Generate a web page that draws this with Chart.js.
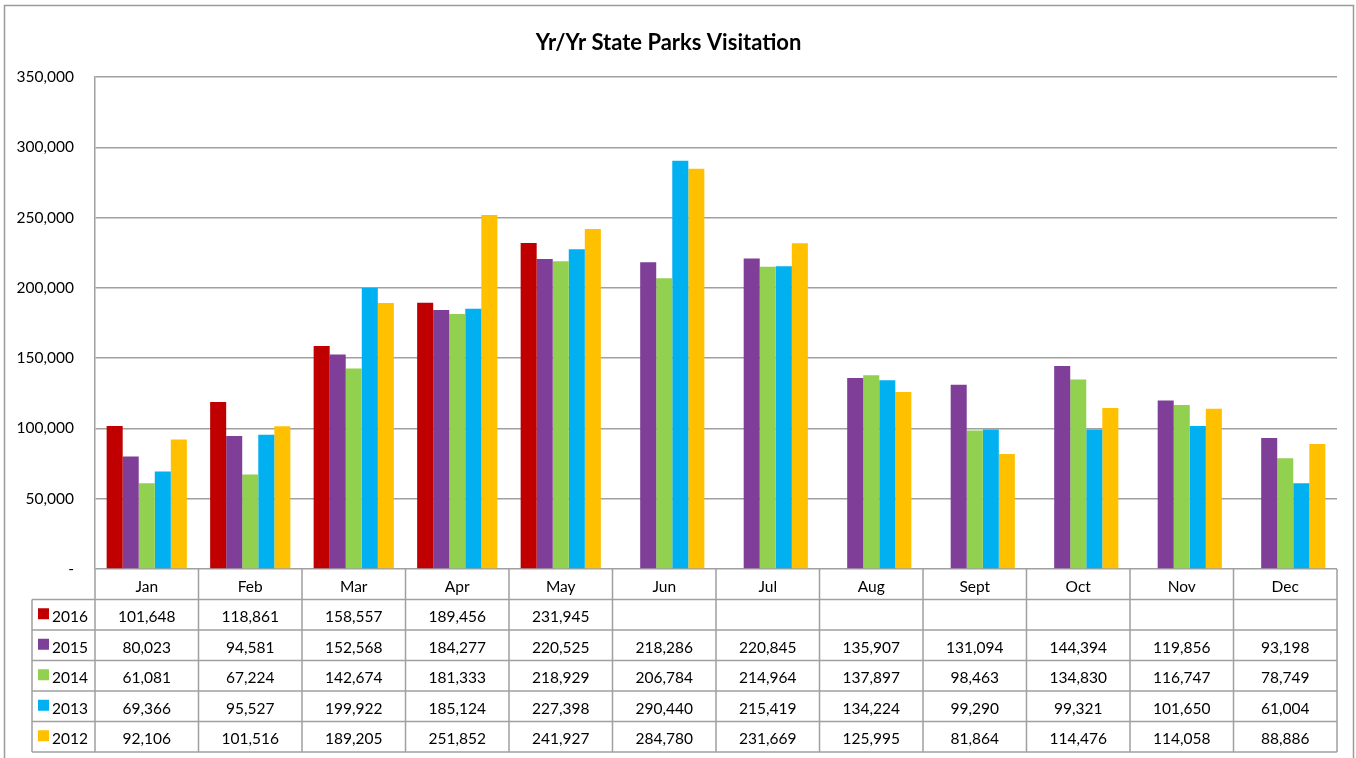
<!DOCTYPE html>
<html>
<head>
<meta charset="utf-8">
<script src="https://cdn.jsdelivr.net/npm/chart.js@4/dist/chart.umd.min.js"></script>
<style>
  html, body { margin: 0; padding: 0; background: #fff; }
</style>
</head>
<body>
<canvas id="chart-visits" width="1356" height="758"></canvas>
<script>
// visitation by month, one array per year
var months = ["Jan", "Feb", "Mar", "Apr", "May", "Jun", "Jul", "Aug", "Sept", "Oct", "Nov", "Dec"];
var years  = ["2016", "2015", "2014", "2013", "2012"];
var v2016 = [101648, 118861, 158557, 189456, 231945, null, null, null, null, null, null, null];
var v2015 = [80023, 94581, 152568, 184277, 220525, 218286, 220845, 135907, 131094, 144394, 119856, 93198];
var v2014 = [61081, 67224, 142674, 181333, 218929, 206784, 214964, 137897, 98463, 134830, 116747, 78749];
var v2013 = [69366, 95527, 199922, 185124, 227398, 290440, 215419, 134224, 99290, 99321, 101650, 61004];
var v2012 = [92106, 101516, 189205, 251852, 241927, 284780, 231669, 125995, 81864, 114476, 114058, 88886];
var colors = ["#C00000", "#7F3F98", "#92D050", "#00B0F0", "#FFC000"];
var yTicks = [0, 50000, 100000, 150000, 200000, 250000, 300000, 350000];

var FONT = "Lato, 'Open Sans', sans-serif";
var LINE = "#a0a0a0";
var series = [v2016, v2015, v2014, v2013, v2012];

function fmt(v) {
  if (v === null || v === undefined) return "";
  return v.toLocaleString("en-US");
}

// outer frame + data table under the plot
var dataTable = {
  id: "dataTable",
  beforeDraw: function(chart) {
    var ctx = chart.ctx;
    ctx.save();
    ctx.fillStyle = "#fff";
    ctx.fillRect(0, 0, chart.width, chart.height);
    ctx.strokeStyle = "#9a9a9a";
    ctx.lineWidth = 1.5;
    ctx.strokeRect(4.5, 5.5, chart.width - 7, chart.height - 2);
    ctx.restore();
  },
  afterDraw: function(chart) {
    var ctx = chart.ctx, a = chart.chartArea, x = chart.scales.x;
    var top = a.bottom, rowH = 30.5, legendLeft = 32;
    var colW = (a.right - a.left) / months.length;
    var bottom = top + rowH * (years.length + 1);
    ctx.save();
    ctx.strokeStyle = LINE;
    ctx.lineWidth = 1.5;
    ctx.beginPath();
    // horizontal rules
    for (var r = 1; r <= years.length + 1; r++) {
      var yy = top + rowH * r;
      ctx.moveTo(legendLeft, yy);
      ctx.lineTo(a.right, yy);
    }
    // vertical rules
    for (var i = 0; i <= months.length; i++) {
      var xx = a.left + colW * i;
      ctx.moveTo(xx, top);
      ctx.lineTo(xx, bottom);
    }
    ctx.moveTo(legendLeft, top + rowH);
    ctx.lineTo(legendLeft, bottom);
    ctx.stroke();

    ctx.fillStyle = "#000";
    ctx.font = "15.5px " + FONT;
    ctx.textBaseline = "middle";
    ctx.textAlign = "center";
    months.forEach(function(m, i) {
      ctx.fillText(m, x.getPixelForValue(i), top + rowH / 2 + 3);
    });
    years.forEach(function(yr, r) {
      var cy = top + rowH * (r + 1) + rowH / 2 + 2.5;
      ctx.fillStyle = colors[r];
      ctx.fillRect(38, cy - 9, 11, 11);
      ctx.fillStyle = "#000";
      ctx.textAlign = "left";
      ctx.fillText(yr, 52, cy);
      ctx.textAlign = "center";
      series[r].forEach(function(v, i) {
        ctx.fillText(fmt(v), x.getPixelForValue(i), cy);
      });
    });
    ctx.restore();
  }
};

var chart = new Chart(document.getElementById("chart-visits").getContext("2d"), {
  type: "bar",
  data: {
    labels: months,
    datasets: years.map(function(yr, i) {
      return {
        label: yr,
        data: series[i],
        backgroundColor: colors[i],
        borderWidth: 0,
        categoryPercentage: 0.775,
        barPercentage: 1.0
      };
    })
  },
  options: {
    responsive: false,
    animation: false,
    layout: { padding: { left: 0, right: 19, top: 0, bottom: 189 } },
    plugins: {
      legend: { display: false },
      tooltip: { enabled: false },
      title: {
        display: true,
        text: "Yr/Yr State Parks Visitation",
        color: "#000",
        font: { family: FONT, size: 22, weight: "bold", lineHeight: 1.2 },
        padding: { top: 30, bottom: 20.6 }
      }
    },
    scales: {
      x: { display: false },
      y: {
        min: 0,
        max: 350000,
        afterFit: function(s) { s.width = 95; },
        afterBuildTicks: function(s) { s.ticks = yTicks.map(function(v) { return { value: v }; }); },
        border: { display: true, color: LINE, width: 1.5 },
        grid: { color: LINE, lineWidth: 1.5, drawTicks: false },
        ticks: {
          padding: 21,
          color: "#000",
          font: { family: FONT, size: 15.5 },
          callback: function(v) { return v === 0 ? "-" : fmt(v); }
        }
      }
    }
  },
  plugins: [dataTable]
});
</script>
</body>
</html>
